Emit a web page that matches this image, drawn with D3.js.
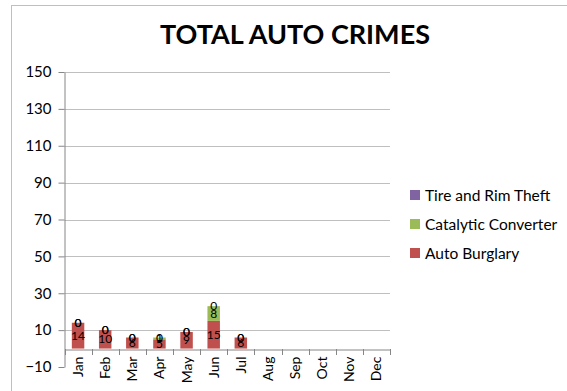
<!DOCTYPE html>
<html>
<head>
<meta charset="utf-8">
<script src="https://cdn.jsdelivr.net/npm/d3@7"></script>
<style>
  body { margin: 0; background: #fff; }
  svg { display: block; font-family: Lato, "Open Sans", sans-serif; }
</style>
</head>
<body>
<script>
// chart data
var months = ["Jan","Feb","Mar","Apr","May","Jun","Jul","Aug","Sep","Oct","Nov","Dec"];
var autoBurglary = [14, 10, 6, 5, 9, 15, 6, null, null, null, null, null];
var catalytic    = [0, 0, 0, 1, 0, 8, 0, null, null, null, null, null];
var tireRim      = [0, 0, 0, 0, 0, 0, 0, null, null, null, null, null];
var seriesNames  = ["Auto Burglary", "Catalytic Converter", "Tire and Rim Theft"];
var seriesColors = ["#c0504d", "#9bbb59", "#8064a2"];
var yTicks = [-10, 10, 30, 50, 70, 90, 110, 130, 150];

var width = 567, height = 391;
var svg = d3.select("body").append("svg")
  .attr("width", width)
  .attr("height", height);

// outer chart border
svg.append("rect")
  .attr("x", 11.5).attr("y", 5.5)
  .attr("width", 560).attr("height", 400)
  .attr("fill", "none")
  .attr("stroke", "#bfbfbf");

svg.append("text")
  .attr("x", 295).attr("y", 44)
  .attr("text-anchor", "middle")
  .attr("font-weight", "bold")
  .attr("font-size", "27px")
  .text("TOTAL AUTO CRIMES");

var x = d3.scaleBand().domain(months).range([64.5, 390]).paddingInner(0).paddingOuter(0);
var y = d3.scaleLinear().domain([-10, 150]).range([367, 72]);

// gridlines
svg.append("g").selectAll("line")
  .data(yTicks.filter(function(d){ return d > -10; }))
  .enter().append("line")
  .attr("x1", 64.5).attr("x2", 390)
  .attr("y1", function(d){ return Math.round(y(d)) + 0.5; })
  .attr("y2", function(d){ return Math.round(y(d)) + 0.5; })
  .attr("stroke", "#bfbfbf");

// y axis
var yAxis = svg.append("g")
  .attr("transform", "translate(64.5,0)")
  .call(d3.axisLeft(y).tickValues(yTicks).tickSize(6).tickPadding(7).tickSizeOuter(0));
yAxis.select(".domain").attr("stroke", "#868686");
yAxis.selectAll(".tick line").attr("stroke", "#868686");
yAxis.selectAll(".tick text")
  .attr("font-family", "Lato, sans-serif")
  .attr("font-size", "15px")
  .attr("fill", "#000");

// stacked bars
var rows = months.map(function(m, i){
  return { month: m, ab: autoBurglary[i], cc: catalytic[i], tr: tireRim[i] };
}).filter(function(d){ return d.ab != null; });
var stack = d3.stack().keys(["ab", "cc", "tr"]);
var layers = stack(rows);
var barW = x.bandwidth() * 0.46;

layers.forEach(function(layer, li){
  var g = svg.append("g");
  g.selectAll("rect").data(layer).enter().append("rect")
    .attr("x", function(d){ return x(d.data.month) + (x.bandwidth() - barW) / 2; })
    .attr("width", barW)
    .attr("y", function(d){ return y(d[1]); })
    .attr("height", function(d){ return y(d[0]) - y(d[1]); })
    .attr("fill", seriesColors[li]);
});

// x axis at zero
var xAxis = svg.append("g")
  .attr("transform", "translate(0," + (Math.round(y(0)) + 0.5) + ")")
  .call(d3.axisBottom(x).tickSize(0).tickSizeOuter(0).tickFormat(""));
xAxis.select(".domain").attr("stroke", "#868686");
xAxis.selectAll(".tick").remove();
svg.append("g").selectAll("line")
  .data(months.concat(["end"]))
  .enter().append("line")
  .attr("x1", function(d, i){ return Math.round(x.range()[0] + i * x.step()) + 0.5; })
  .attr("x2", function(d, i){ return Math.round(x.range()[0] + i * x.step()) + 0.5; })
  .attr("y1", Math.round(y(0)))
  .attr("y2", Math.round(y(0)) + 6)
  .attr("stroke", "#868686");

svg.append("g").selectAll("text")
  .data(months).enter().append("text")
  .attr("transform", function(d){
    return "translate(" + (x(d) + x.bandwidth() / 2 + 5) + "," + (y(0) + 8) + ") rotate(-90)";
  })
  .attr("text-anchor", "end")
  .attr("font-size", "14px")
  .text(function(d){ return d; });

// data labels (zero-valued segments stack on the bar top, as in the original)
layers.forEach(function(layer){
  svg.append("g").selectAll("text").data(layer).enter().append("text")
    .attr("x", function(d){ return x(d.data.month) + x.bandwidth() / 2; })
    .attr("y", function(d){ return (y(d[0]) + y(d[1])) / 2 + 4; })
    .attr("text-anchor", "middle")
    .attr("font-size", "12px")
    .text(function(d){ return d[1] - d[0]; });
});

// legend
var legend = svg.append("g").selectAll("g")
  .data(seriesNames.slice().reverse())
  .enter().append("g")
  .attr("transform", function(d, i){ return "translate(410," + (190 + i * 29) + ")"; });
legend.append("rect")
  .attr("width", 10).attr("height", 10)
  .attr("fill", function(d){ return seriesColors[seriesNames.indexOf(d)]; });
legend.append("text")
  .attr("x", 15).attr("y", 10.5)
  .attr("font-size", "15.5px")
  .text(function(d){ return d; });
</script>
</body>
</html>
